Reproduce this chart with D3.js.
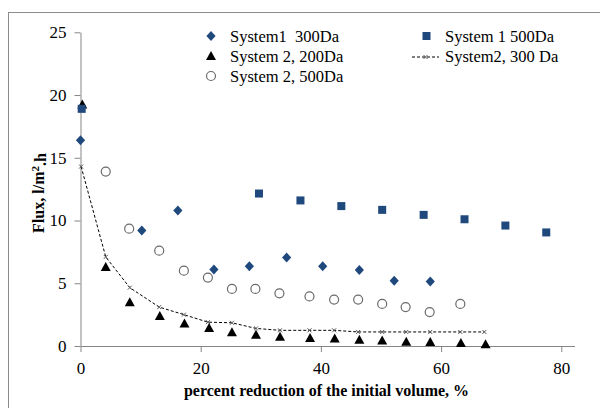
<!DOCTYPE html>
<html>
<head>
<meta charset="utf-8">
<script src="https://cdn.jsdelivr.net/npm/d3@7"></script>
</head>
<body style="margin:0;background:#fff">
<svg id="chart" width="600" height="408"></svg>
<script>
// Flux vs. percent volume reduction for two membrane systems
const xTicks = [0, 20, 40, 60, 80];
const yTicks = [0, 5, 10, 15, 20, 25];

const sys1_300_x = [0, 10.2, 16.2, 22.2, 28.1, 34.3, 40.3, 46.4, 52.2, 58.2];
const sys1_300_y = [16.4, 9.2, 10.8, 6.1, 6.35, 7.05, 6.35, 6.05, 5.2, 5.15];

const sys1_500_x = [0.2, 29.7, 36.6, 43.4, 50.2, 57.1, 63.9, 70.7, 77.5];
const sys1_500_y = [18.9, 12.15, 11.6, 11.15, 10.85, 10.45, 10.1, 9.6, 9.05];

const sys2_200_x = [0.3, 4.2, 8.2, 13.2, 17.3, 21.4, 25.2, 29.2, 33.2, 38.2, 42.3, 46.4, 50.2, 54.2, 58.2, 63.3, 67.4];
const sys2_200_y = [19.2, 6.25, 3.45, 2.35, 1.75, 1.4, 1.05, 0.85, 0.7, 0.6, 0.55, 0.45, 0.4, 0.3, 0.27, 0.2, 0.1];

const sys2_300_x = [0.1, 4.2, 8.2, 13.1, 17.2, 21.2, 25.2, 29.2, 33.2, 38.1, 42.2, 46.2, 50.2, 54.2, 58.2, 63.2, 67.2];
const sys2_300_y = [14.3, 7.1, 4.65, 3.1, 2.5, 1.9, 1.85, 1.4, 1.25, 1.25, 1.25, 1.12, 1.12, 1.12, 1.12, 1.12, 1.12];

const sys2_500_x = [4.2, 8.1, 13.1, 17.2, 21.2, 25.2, 29.1, 33.1, 38.1, 42.2, 46.2, 50.2, 54.1, 58.1, 63.2];
const sys2_500_y = [13.9, 9.35, 7.6, 6.0, 5.45, 4.55, 4.55, 4.2, 3.95, 3.7, 3.7, 3.35, 3.1, 2.7, 3.35];

const legendLabels = ["System1\u00a0 300Da", "System 2, 200Da", "System 2, 500Da", "System 1 500Da", "System2, 300 Da"];

const serif = "Liberation Serif";
const blue = "#1F497D";
const svg = d3.select("#chart");

// chart frame (runs off the right and bottom edges)
svg.append("rect").attr("x", 8.5).attr("y", 12.5).attr("width", 700).attr("height", 500)
  .attr("fill", "none").attr("stroke", "#8c8c8c").attr("stroke-width", 1);

const x = d3.scaleLinear().domain([0, 82.2]).range([80.5, 574.5]);
const y = d3.scaleLinear().domain([0, 25]).range([346, 32.3]);

const axisColor = "#868686";

const gx = svg.append("g").attr("transform", `translate(0,${y(0)})`)
  .call(d3.axisBottom(x).tickValues(xTicks).tickSizeInner(6).tickSizeOuter(0).tickPadding(8).tickFormat(d3.format("d")));
const gy = svg.append("g").attr("transform", `translate(${x(0)},0)`)
  .call(d3.axisLeft(y).tickValues(yTicks).tickSizeInner(6).tickSizeOuter(0).tickPadding(8).tickFormat(d3.format("d")));
[gx, gy].forEach(g => {
  g.attr("font-family", serif).attr("font-size", 17);
  g.select(".domain").attr("stroke", axisColor);
  g.selectAll(".tick line").attr("stroke", axisColor);
  g.selectAll(".tick text").attr("fill", "#000");
});
gx.selectAll(".tick text").attr("dy", "0.85em");

// axis titles
svg.append("text").attr("x", 326.5).attr("y", 396).attr("text-anchor", "middle")
  .attr("font-family", serif).attr("font-weight", "bold").attr("font-size", 16)
  .text("percent reduction of the initial volume, %");

const yTitle = svg.append("text").attr("transform", "translate(44,193) rotate(-90)")
  .attr("text-anchor", "middle").attr("font-family", serif)
  .attr("font-weight", "bold").attr("font-size", 16);
yTitle.append("tspan").text("Flux, l/m");
yTitle.append("tspan").attr("dy", "-0.45em").attr("font-size", 11).text("2");
yTitle.append("tspan").attr("dy", "0.45em").text(".h");

// marker generators
const diamond = (g, cx, cy) => g.append("path")
  .attr("d", `M${cx},${cy - 5}L${cx + 4.6},${cy}L${cx},${cy + 5}L${cx - 4.6},${cy}Z`).attr("fill", blue);
const square = (g, cx, cy) => g.append("rect")
  .attr("x", cx - 4).attr("y", cy - 4).attr("width", 8).attr("height", 8).attr("fill", blue);
const triangle = (g, cx, cy) => g.append("path")
  .attr("d", `M${cx},${cy - 5.5}L${cx + 5},${cy + 3.5}L${cx - 5},${cy + 3.5}Z`).attr("fill", "#000");
const circle = (g, cx, cy) => g.append("circle")
  .attr("cx", cx).attr("cy", cy).attr("r", 4.5).attr("fill", "#fff")
  .attr("stroke", "#6a6a6a").attr("stroke-width", 1.2);
const cross = (g, cx, cy) => g.append("path")
  .attr("d", `M${cx - 2},${cy - 2}L${cx + 2},${cy + 2}M${cx + 2},${cy - 2}L${cx - 2},${cy + 2}`)
  .attr("stroke", "#555").attr("stroke-width", 1);

const plot = svg.append("g");

// System2, 300 Da dashed line
const line = d3.line().x(i => x(sys2_300_x[i])).y(i => y(sys2_300_y[i]));
plot.append("path").attr("d", line(d3.range(sys2_300_x.length)))
  .attr("fill", "none").attr("stroke", "#000").attr("stroke-width", 1).attr("stroke-dasharray", "3,2");
sys2_300_x.forEach((v, i) => cross(plot, x(v), y(sys2_300_y[i])));

sys2_500_x.forEach((v, i) => circle(plot, x(v), y(sys2_500_y[i])));
sys2_200_x.forEach((v, i) => triangle(plot, x(v), y(sys2_200_y[i])));
sys1_300_x.forEach((v, i) => diamond(plot, x(v), y(sys1_300_y[i])));
sys1_500_x.forEach((v, i) => square(plot, x(v), y(sys1_500_y[i])));

// legend
const lg = svg.append("g");
const legendRows = [36, 56, 76];
const addLabel = (tx, ty, s) => lg.append("text").attr("x", tx).attr("y", ty + 5.5)
  .attr("font-family", serif).attr("font-size", 16.5).text(s);
diamond(lg, 211, legendRows[0]); addLabel(230, legendRows[0], legendLabels[0]);
triangle(lg, 211, legendRows[1] + 0.5); addLabel(230, legendRows[1], legendLabels[1]);
circle(lg, 211, legendRows[2]); addLabel(230, legendRows[2], legendLabels[2]);
square(lg, 426.5, legendRows[0]); addLabel(445, legendRows[0], legendLabels[3]);
lg.append("line").attr("x1", 412).attr("x2", 439).attr("y1", legendRows[1] + 1).attr("y2", legendRows[1] + 1)
  .attr("stroke", "#000").attr("stroke-width", 1).attr("stroke-dasharray", "3,2");
cross(lg, 425.5, legendRows[1] + 1);
addLabel(445, legendRows[1], legendLabels[4]);
</script>
</body>
</html>
